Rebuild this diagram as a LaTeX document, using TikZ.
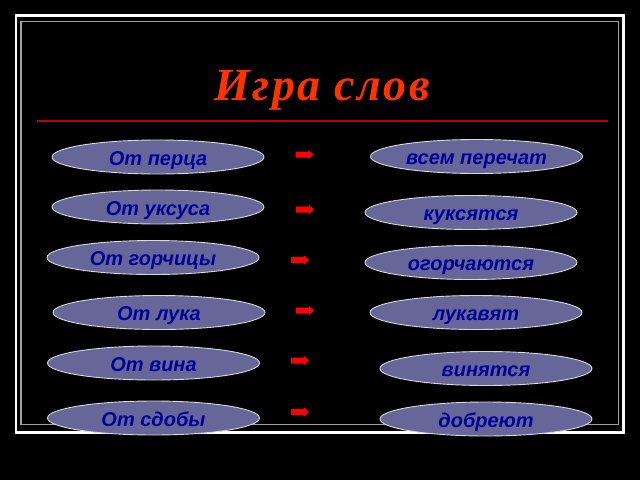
\documentclass[tikz,border=0pt]{standalone}
\usepackage{fontspec}
\setmainfont{Liberation Serif}
\newfontfamily\ellfont{Liberation Sans}
\newfontfamily\titlefont[LetterSpace=5.5]{Liberation Serif}
\usetikzlibrary{shapes.geometric}
\definecolor{titlered}{HTML}{FF3300}
\definecolor{linered}{HTML}{C00000}
\definecolor{ellfill}{HTML}{666699}
\definecolor{elltext}{HTML}{000099}
\definecolor{framegray}{HTML}{A0A0A0}
\tikzset{
  word/.style={ellipse, draw=white!85!black, line width=0.9pt, fill=ellfill,
    minimum width=212pt, minimum height=34pt, inner sep=0pt,
    text height=16pt, text depth=0pt,
    font=\ellfont\bfseries\itshape\fontsize{20}{22}\selectfont, text=elltext},
  pics/redarrow/.style={code={
    \fill[red] (-9,-3) -- (4,-3) -- (4,-4.5) -- (9,0) -- (4,4.5) -- (4,3) -- (-9,3) -- cycle;
  }}
}
\begin{document}
\begin{tikzpicture}[x=1pt,y=-1pt]
\useasboundingbox (0,0) rectangle (640,480);
\fill[black] (0,0) rectangle (640,480);
% frame
\draw[white, line width=2.5pt] (16,15.5) rectangle (623.5,432.5);
\draw[framegray, line width=1.2pt] (21,21.5) rectangle (618.5,424.5);
% title
\node[font=\titlefont\bfseries\itshape\fontsize{46}{50}\selectfont, text=titlered, anchor=base] (title) at (322,100) {Игра слов};
\draw[linered, line width=1.3pt] (37,121) -- (608,121);
% left
\node[word] (l1) at (158,157) {От перца};
\node[word] (l2) at (158,207) {От уксуса};
\node[word] (l3) at (153,257.5) {От горчицы};
\node[word] (l4) at (159,312.5) {От лука};
\node[word] (l5) at (153.5,363) {От вина};
\node[word] (l6) at (153.5,418) {От сдобы};
% right
\node[word] (r1) at (476.5,156.5) {всем перечат};
\node[word] (r2) at (471,212.5) {куксятся};
\node[word] (r3) at (471,262.5) {огорчаются};
\node[word] (r4) at (476,312.5) {лукавят};
\node[word] (r5) at (486,368.5) {винятся};
\node[word] (r6) at (486,419) {добреют};
% arrows
\pic at (304.5,154.5) {redarrow};
\pic at (305,209.5) {redarrow};
\pic at (300,260) {redarrow};
\pic at (305,310.5) {redarrow};
\pic at (300,360.5) {redarrow};
\pic at (300,412) {redarrow};
\end{tikzpicture}
\end{document}
